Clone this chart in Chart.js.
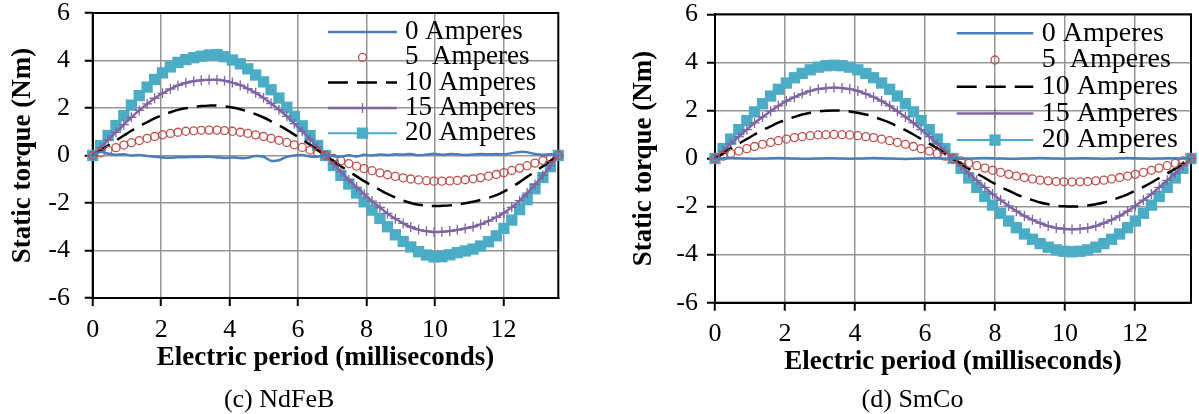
<!DOCTYPE html>
<html lang="en">
<head>
<meta charset="UTF-8">
<title>Static torque vs electric period</title>
<script src="https://cdn.jsdelivr.net/npm/chart.js"></script>
<style>
    body {
        margin: 0;
        background: #fff;
        width: 1199px;
        height: 414px;
        overflow: hidden;
        position: relative;
    }
    canvas { position: absolute; top: 0; }
    #ndfeb { left: 0; }
    #smco { left: 626px; }
</style>
</head>
<body>
<canvas id="ndfeb" width="585" height="414"></canvas>
<canvas id="smco" width="573" height="414"></canvas>
<script>
// electric period (ms), one sample every 6 electrical degrees
const periodMs = [0, 0.23, 0.45, 0.68, 0.91, 1.13, 1.36, 1.59, 1.81, 2.04,
    2.27, 2.49, 2.72, 2.95, 3.17, 3.4, 3.63, 3.85, 4.08, 4.31,
    4.53, 4.76, 4.99, 5.21, 5.44, 5.67, 5.89, 6.12, 6.35, 6.57,
    6.8, 7.03, 7.25, 7.48, 7.71, 7.93, 8.16, 8.39, 8.61, 8.84,
    9.07, 9.29, 9.52, 9.75, 9.97, 10.2, 10.43, 10.65, 10.88, 11.11,
    11.33, 11.56, 11.79, 12.01, 12.24, 12.47, 12.69, 12.92, 13.15, 13.37,
    13.6];

const seriesLabels = ['0 Amperes', '5  Amperes', '10 Amperes', '15 Amperes', '20 Amperes'];
const xTicks = [0, 2, 4, 6, 8, 10, 12];
const yTicks = [-6, -4, -2, 0, 2, 4, 6];

// (c) NdFeB
const ndfeb0A = [0, .15, .08, .03, .05, 0, .02, -.02, -.05, -.08,
    -.09, -.07, -.07, -.06, -.06, -.05, -.08, -.1, -.08, -.11,
    -.1, -.02, -.06, -.22, -.2, -.05, 0, .02, -.04, -.05,
    .02, -.03, -.05, .01, -.04, .03, 0, .04, .02, .05,
    .04, .06, .01, .04, .07, .03, .06, .05, .02, .04,
    .06, .05, .06, .05, .1, .15, .14, .06, .03, .05,
    0];
const ndfeb5A = [0, .11, .22, .33, .44, .54, .63, .72, .8, .87,
    .93, .98, 1.02, 1.04, 1.06, 1.07, 1.07, 1.05, 1.02, .98,
    .93, .87, .8, .72, .64, .55, .45, .34, .23, .12,
    0, -.12, -.23, -.34, -.45, -.55, -.64, -.73, -.81, -.88,
    -.94, -.99, -1.03, -1.06, -1.08, -1.08, -1.07, -1.05, -1.02, -.98,
    -.93, -.87, -.8, -.72, -.63, -.53, -.43, -.32, -.21, -.1,
    0];
const ndfeb10A = [0, .21, .42, .63, .84, 1.04, 1.23, 1.4, 1.56, 1.7,
    1.82, 1.92, 1.99, 2.04, 2.08, 2.1, 2.1, 2.07, 2.02, 1.95,
    1.86, 1.74, 1.6, 1.44, 1.27, 1.08, .88, .67, .45, .23,
    0, -.23, -.45, -.67, -.88, -1.08, -1.27, -1.45, -1.62, -1.77,
    -1.9, -2.0, -2.07, -2.11, -2.13, -2.12, -2.1, -2.06, -2.01, -1.95,
    -1.87, -1.78, -1.67, -1.52, -1.33, -1.12, -.9, -.68, -.45, -.22,
    0];
const ndfeb15A = [0, .33, .66, .98, 1.3, 1.61, 1.9, 2.17, 2.41, 2.62,
    2.8, 2.95, 3.06, 3.13, 3.17, 3.19, 3.19, 3.15, 3.07, 2.96,
    2.82, 2.64, 2.43, 2.19, 1.93, 1.65, 1.34, 1.02, .69, .35,
    0, -.35, -.69, -1.02, -1.33, -1.63, -1.92, -2.19, -2.44, -2.66,
    -2.86, -3.01, -3.12, -3.19, -3.22, -3.21, -3.18, -3.13, -3.07, -3.0,
    -2.9, -2.76, -2.6, -2.42, -2.18, -1.9, -1.58, -1.22, -.84, -.43,
    0];
const ndfeb20A = [0, .42, .84, 1.26, 1.68, 2.12, 2.52, 2.88, 3.2, 3.48,
    3.73, 3.92, 4.04, 4.12, 4.18, 4.23, 4.25, 4.16, 4.02, 3.86,
    3.65, 3.39, 3.1, 2.77, 2.42, 2.03, 1.65, 1.25, .84, .42,
    0, -.42, -.84, -1.2, -1.58, -1.95, -2.3, -2.65, -3.0, -3.34,
    -3.62, -3.85, -4.05, -4.19, -4.27, -4.26, -4.18, -4.09, -4.02, -3.94,
    -3.81, -3.63, -3.38, -3.07, -2.72, -2.28, -1.86, -1.4, -.93, -.47,
    0];

// (d) SmCo
const smco0A = [0, .01, .02, .01, 0, -.01, 0, .01, .02, .01,
    0, -.01, -.01, 0, .01, .01, 0, -.01, 0, .01,
    .02, .01, 0, -.01, -.02, -.01, 0, .01, .01, 0,
    0, -.01, 0, .01, .02, .01, 0, -.01, -.01, 0,
    .01, .02, .01, 0, -.01, 0, .01, .01, 0, -.01,
    0, .01, .02, .01, 0, -.01, 0, .01, .01, 0,
    0];
const smco5A = [0, .1, .21, .31, .41, .5, .59, .67, .74, .81,
    .87, .91, .95, .98, .99, 1, .99, .98, .95, .91,
    .87, .81, .74, .67, .59, .5, .41, .31, .21, .1,
    0, -.1, -.2, -.3, -.4, -.49, -.58, -.66, -.73, -.79,
    -.85, -.9, -.93, -.96, -.97, -.98, -.97, -.96, -.93, -.9,
    -.85, -.79, -.73, -.66, -.58, -.49, -.4, -.3, -.2, -.1,
    0];
const smco10A = [0, .21, .42, .62, .81, 1, 1.18, 1.34, 1.49, 1.62,
    1.73, 1.83, 1.9, 1.96, 1.99, 2, 1.99, 1.96, 1.9, 1.83,
    1.73, 1.62, 1.49, 1.34, 1.18, 1, .81, .62, .42, .21,
    0, -.21, -.42, -.62, -.81, -1, -1.18, -1.34, -1.49, -1.62,
    -1.73, -1.83, -1.9, -1.96, -1.99, -2, -1.99, -1.96, -1.9, -1.83,
    -1.73, -1.62, -1.49, -1.34, -1.18, -1, -.81, -.62, -.42, -.21,
    0];
const smco15A = [0, .31, .61, .91, 1.2, 1.48, 1.73, 1.97, 2.19, 2.39,
    2.55, 2.69, 2.81, 2.89, 2.93, 2.95, 2.93, 2.89, 2.81, 2.69,
    2.55, 2.39, 2.19, 1.97, 1.73, 1.48, 1.2, .91, .61, .31,
    0, -.31, -.61, -.91, -1.2, -1.48, -1.73, -1.97, -2.19, -2.39,
    -2.55, -2.69, -2.81, -2.89, -2.93, -2.95, -2.93, -2.89, -2.81, -2.69,
    -2.55, -2.39, -2.19, -1.97, -1.73, -1.48, -1.2, -.91, -.61, -.31,
    0];
const smco20A = [0, .41, .81, 1.2, 1.58, 1.94, 2.28, 2.6, 2.88, 3.14,
    3.36, 3.54, 3.69, 3.8, 3.86, 3.88, 3.86, 3.8, 3.69, 3.54,
    3.36, 3.14, 2.88, 2.6, 2.28, 1.94, 1.58, 1.2, .81, .41,
    0, -.41, -.81, -1.2, -1.58, -1.94, -2.28, -2.6, -2.88, -3.14,
    -3.36, -3.54, -3.69, -3.8, -3.86, -3.88, -3.86, -3.8, -3.69, -3.54,
    -3.36, -3.14, -2.88, -2.6, -2.28, -1.94, -1.58, -1.2, -.81, -.41,
    0];

const SERIF = '"Liberation Serif", "Times New Roman", serif';
Chart.defaults.font.family = SERIF;
Chart.defaults.color = '#000';

// legend drawn inside the plot, no box, like the original figure
const sideLegend = {
    id: 'sideLegend',
    afterDatasetsDraw(chart, args, opts) {
        const ctx = chart.ctx;
        ctx.save();
        ctx.font = opts.fontSize + 'px ' + SERIF;
        ctx.textBaseline = 'middle';
        ctx.textAlign = 'left';
        chart.data.datasets.forEach((ds, i) => {
            const y = opts.top + i * opts.rowHeight;
            const x0 = opts.left, x1 = opts.left + opts.lineLength;
            if (ds.showLine !== false) {
                ctx.beginPath();
                ctx.setLineDash(ds.borderDash || []);
                ctx.lineWidth = ds.borderWidth;
                ctx.strokeStyle = ds.borderColor;
                ctx.moveTo(x0, y);
                ctx.lineTo(x1, y);
                ctx.stroke();
                ctx.setLineDash([]);
            }
            if (ds.pointRadius > 0) {
                ctx.fillStyle = ds.pointBackgroundColor;
                ctx.strokeStyle = ds.pointBorderColor;
                ctx.lineWidth = ds.pointBorderWidth;
                Chart.helpers.drawPoint(ctx, {
                    pointStyle: ds.pointStyle,
                    radius: ds.pointRadius,
                    borderWidth: ds.pointBorderWidth,
                    rotation: 0
                }, (x0 + x1) / 2, y);
            }
            ctx.fillStyle = '#000';
            ctx.fillText(ds.label, x1 + opts.gap, y);
        });
        ctx.restore();
    }
};

// black box round the plot area
const plotFrame = {
    id: 'plotFrame',
    beforeDatasetsDraw(chart) {
        const {ctx, chartArea: a} = chart;
        ctx.save();
        ctx.strokeStyle = '#000';
        ctx.lineWidth = 2;
        ctx.strokeRect(a.left, a.top, a.right - a.left, a.bottom - a.top);
        ctx.restore();
    }
};

function makeDatasets(values) {
    const pts = arr => periodMs.map((x, i) => ({x: x, y: arr[i]}));
    return [
        { label: seriesLabels[0], data: pts(values[0]), borderColor: '#4A7EBB', borderWidth: 2.5,
          pointRadius: 0, tension: 0.4, clip: false },
        { label: seriesLabels[1], data: pts(values[1]), showLine: false, borderColor: '#C0504D',
          pointStyle: 'circle', pointRadius: 4, pointBorderColor: '#C0504D',
          pointBackgroundColor: 'rgba(255,255,255,0)', pointBorderWidth: 1.3, clip: false },
        { label: seriesLabels[2], data: pts(values[2]), borderColor: '#000', borderWidth: 2.5,
          borderDash: [20, 9], pointRadius: 0, tension: 0.4, clip: false },
        { label: seriesLabels[3], data: pts(values[3]), borderColor: '#8064A2', borderWidth: 2.5,
          pointStyle: 'cross', pointRadius: 5, pointBorderColor: '#8064A2',
          pointBackgroundColor: '#8064A2', pointBorderWidth: 1.3, tension: 0.4, clip: false },
        { label: seriesLabels[4], data: pts(values[4]), borderColor: '#4BACC6', borderWidth: 2,
          pointStyle: 'rect', pointRadius: 8, pointBorderColor: '#4BACC6',
          pointBackgroundColor: '#4BACC6', pointBorderWidth: 0, tension: 0.4, clip: false }
    ];
}

function makeChart(id, values, caption, lay) {
    return new Chart(document.getElementById(id), {
        type: 'line',
        data: { datasets: makeDatasets(values) },
        options: {
            responsive: false,
            animation: false,
            devicePixelRatio: 1,
            layout: { padding: { top: lay.padTop, left: 0, right: lay.padRight, bottom: 0 } },
            plugins: {
                legend: { display: false },
                tooltip: { enabled: false },
                title: {
                    display: true,
                    position: 'bottom',
                    text: caption,
                    font: { size: 26, weight: 'normal', lineHeight: 1 },
                    padding: { top: lay.capPadTop, bottom: 1 }
                },
                sideLegend: lay.legend
            },
            scales: {
                x: {
                    type: 'linear',
                    min: 0,
                    max: 13.6,
                    afterBuildTicks: s => { s.ticks = xTicks.map(v => ({value: v})); },
                    ticks: { font: { size: 26 }, padding: lay.xTickPad, maxRotation: 0 },
                    grid: { color: '#959595', lineWidth: 1.5, tickLength: 8, tickColor: '#000', tickWidth: 2 },
                    border: { color: '#000', width: 2 },
                    title: {
                        display: true,
                        text: 'Electric period (milliseconds)',
                        font: { size: 27, weight: 'bold' },
                        padding: { top: 4, bottom: 4 }
                    },
                    afterFit: s => { s.height = lay.xHeight; s.paddingLeft = 0; s.paddingRight = 0; }
                },
                y: {
                    min: -6,
                    max: 6,
                    afterBuildTicks: s => { s.ticks = yTicks.map(v => ({value: v})); },
                    ticks: { font: { size: 26 }, padding: lay.yTickPad },
                    grid: { color: '#959595', lineWidth: 1.5, tickLength: 8, tickColor: '#000', tickWidth: 2 },
                    border: { color: '#000', width: 2 },
                    title: {
                        display: true,
                        text: 'Static torque (Nm)',
                        font: { size: 27, weight: 'bold' },
                        padding: { top: lay.yTitlePadTop, bottom: 4 }
                    },
                    afterFit: s => { s.width = lay.yWidth; s.paddingTop = 0; s.paddingBottom = 0; }
                }
            }
        },
        plugins: [plotFrame, sideLegend]
    });
}

makeChart('ndfeb', [ndfeb0A, ndfeb5A, ndfeb10A, ndfeb15A, ndfeb20A], '(c) NdFeB', {
    padTop: 13, padRight: 26.7, yWidth: 92.7, yTitlePadTop: 7.1, yTickPad: 14.7,
    xTickPad: 8.4, xHeight: 80.2, capPadTop: 8.8,
    legend: { left: 328, top: 32, rowHeight: 25.3, lineLength: 69, gap: 8, fontSize: 27 }
});

makeChart('smco', [smco0A, smco5A, smco10A, smco15A, smco20A], '(d) SmCo', {
    padTop: 14.3, padRight: 0, yWidth: 89, yTitlePadTop: 1.8, yTickPad: 9,
    xTickPad: 7.7, xHeight: 79.5, capPadTop: 4.8,
    legend: { left: 330.7, top: 33.3, rowHeight: 26.7, lineLength: 76.6, gap: 8.4, fontSize: 28 }
});
</script>
</body>
</html>
